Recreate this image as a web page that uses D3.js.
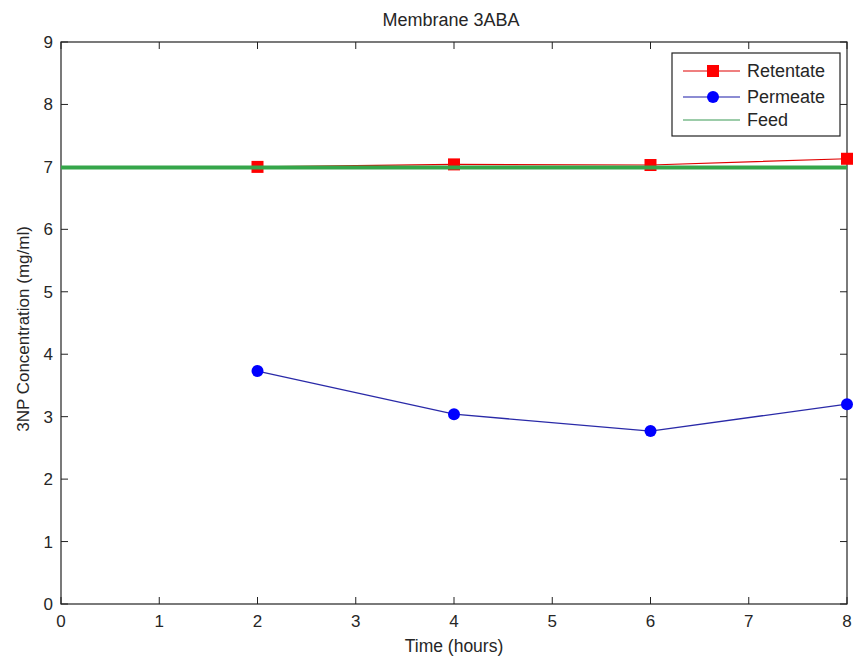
<!DOCTYPE html>
<html><head><meta charset="utf-8">
<script src="https://cdn.jsdelivr.net/npm/d3@7"></script>
<style>body{margin:0;background:#fff;} text{font-family:"Liberation Sans",Arial,sans-serif;}</style>
</head><body>
<svg id="c" width="856" height="657"></svg>
<script>
const hours = [2, 4, 6, 8];
const retentate = [7.00, 7.04, 7.03, 7.13];
const permeate = [3.73, 3.04, 2.77, 3.20];
const feedHours = [0, 8];
const feed = [6.99, 6.99];
const xTicks = [0,1,2,3,4,5,6,7,8];
const yTicks = [0,1,2,3,4,5,6,7,8,9];

const svg = d3.select("#c");
const L = 61, R = 847, T = 42, B = 604;
const x = d3.scaleLinear().domain([0,8]).range([L,R]);
const y = d3.scaleLinear().domain([0,9]).range([B,T]);

const axisColor = "#222";
const textColor = "#262626";
const g = svg.append("g");
const tl = 7;
xTicks.forEach(t=>{
  g.append("line").attr("x1",x(t)).attr("x2",x(t)).attr("y1",B).attr("y2",B-tl).attr("stroke",axisColor);
  g.append("line").attr("x1",x(t)).attr("x2",x(t)).attr("y1",T).attr("y2",T+tl).attr("stroke",axisColor);
  g.append("text").attr("x",x(t)).attr("y",B+23).attr("text-anchor","middle").attr("font-size",17).attr("fill",textColor).text(t);
});
yTicks.forEach(t=>{
  g.append("line").attr("x1",L).attr("x2",L+tl).attr("y1",y(t)).attr("y2",y(t)).attr("stroke",axisColor);
  g.append("line").attr("x1",R).attr("x2",R-tl).attr("y1",y(t)).attr("y2",y(t)).attr("stroke",axisColor);
  g.append("text").attr("x",L-8).attr("y",y(t)+6).attr("text-anchor","end").attr("font-size",17).attr("fill",textColor).text(t);
});
svg.append("rect").attr("x",L).attr("y",T).attr("width",R-L).attr("height",B-T).attr("fill","none").attr("stroke",axisColor).attr("stroke-width",1.2);

const line = d3.line().x(d=>x(d[0])).y(d=>y(d[1]));
const retData = hours.map((h,i)=>[h,retentate[i]]);
const perData = hours.map((h,i)=>[h,permeate[i]]);
const feedData = feedHours.map((h,i)=>[h,feed[i]]);

svg.append("path").attr("d",line(retData)).attr("fill","none").attr("stroke","#e00000").attr("stroke-width",1.2);
svg.selectAll(".sq").data(retData).enter().append("rect")
  .attr("x",d=>x(d[0])-6).attr("y",d=>y(d[1])-6).attr("width",12).attr("height",12).attr("fill","#ff0000");
svg.append("path").attr("d",line(perData)).attr("fill","none").attr("stroke","#2a2aa8").attr("stroke-width",1.3);
svg.selectAll(".ci").data(perData).enter().append("circle")
  .attr("cx",d=>x(d[0])).attr("cy",d=>y(d[1])).attr("r",6).attr("fill","#0000ff");
svg.append("path").attr("d",line(feedData)).attr("fill","none").attr("stroke","#35a64a").attr("stroke-width",4);

svg.append("text").attr("x",451).attr("y",26).attr("text-anchor","middle").attr("font-size",18).attr("fill",textColor).text("Membrane 3ABA");
svg.append("text").attr("x",(L+R)/2).attr("y",652).attr("text-anchor","middle").attr("font-size",17.5).attr("fill",textColor).text("Time (hours)");
svg.append("text").attr("transform",`translate(29,${(T+B)/2 + 6}) rotate(-90)`).attr("text-anchor","middle").attr("font-size",17).attr("fill",textColor).text("3NP Concentration (mg/ml)");

const lg = svg.append("g");
lg.append("rect").attr("x",672).attr("y",53).attr("width",168).attr("height",83).attr("fill","#fff").attr("stroke","#222").attr("stroke-width",1.2);
const items = [
  {name:"Retentate", color:"#e00000", marker:"sq", yy:71},
  {name:"Permeate", color:"#1a1aa8", marker:"ci", yy:97},
  {name:"Feed", color:"#3a9a55", marker:null, yy:120}
];
items.forEach(it=>{
  lg.append("line").attr("x1",683).attr("x2",740).attr("y1",it.yy).attr("y2",it.yy).attr("stroke",it.color).attr("stroke-width",1.2);
  if(it.marker==="sq") lg.append("rect").attr("x",707).attr("y",it.yy-6).attr("width",12).attr("height",12).attr("fill","#ff0000");
  if(it.marker==="ci") lg.append("circle").attr("cx",713).attr("cy",it.yy).attr("r",6).attr("fill","#0000ff");
  lg.append("text").attr("x",747).attr("y",it.yy+6).attr("font-size",18).attr("fill",textColor).text(it.name);
});
</script>
</body></html>
